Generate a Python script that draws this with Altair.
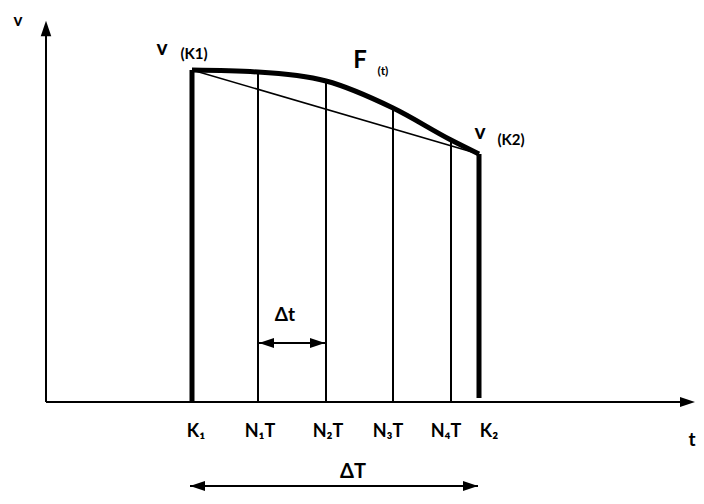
import altair as alt
import pandas as pd

# ---- data (diagram units: 1 unit ~ 1/6.7 of a sampling interval Δt) ----
curve_t = [14.6, 21.2, 28.0, 34.7, 40.5, 43.3]
curve_v = [33.2, 33.0, 32.1, 29.4, 26.2, 24.8]

grid_names = ["N1T", "N2T", "N3T", "N4T"]
grid_t = [21.2, 28.0, 34.7, 40.5]
grid_v = [33.0, 32.1, 29.4, 26.2]

k_names = ["K1", "K2"]
k_t = [14.6, 43.3]
k_v = [33.2, 24.8]
k_base = [0.0, 0.4]

tick_labels = ["K₁", "N₁T", "N₂T", "N₃T", "N₄T", "K₂"]
tick_t = [15.0, 21.4, 28.2, 34.2, 40.0, 44.3]
tick_v = -3.0

axis_t_end = 63.6
axis_v_end = 37.0

dt_span = [21.3, 27.9]
dt_level = 5.9
DT_span = [14.4, 43.2]
DT_level = -8.4

head_t = [0.0, 64.15, 22.05, 27.15, 15.15, 42.45]
head_v = [37.35, 0.0, dt_level, dt_level, DT_level, DT_level]
head_angle = [270, 0, 180, 0, 180, 0]
head_size = [240, 225, 225, 225, 225, 225]

label_text = ["v", "v", "(K1)", "F", "(t)", "v", "(K2)", "Δt", "ΔT", "t"]
label_t = [-2.8, 11.6, 14.8, 31.4, 33.7, 43.4, 46.5, 23.9, 30.7, 64.6]
label_v = [38.1, 35.3, 34.8, 34.1, 33.1, 26.9, 26.2, 8.7, -7.0, -3.8]
label_size = [17, 21, 15, 24, 12, 21, 15, 19, 20, 19]

FONT = "Lato"

xs = alt.Scale(domain=[-3.8, 65.0], nice=False, zero=False)
ys = alt.Scale(domain=[-9.0, 39.4], nice=False, zero=False)


def X(f="t"):
    return alt.X(f"{f}:Q", scale=xs, axis=None)


def Y(f="v"):
    return alt.Y(f"{f}:Q", scale=ys, axis=None)


# axes
axes_df = pd.DataFrame({
    "t": [0.0, 0.0], "t2": [axis_t_end, 0.0],
    "v": [0.0, 0.0], "v2": [0.0, axis_v_end],
})
axes = alt.Chart(axes_df).mark_rule(color="black", strokeWidth=2).encode(
    x=X(), x2="t2:Q", y=Y(), y2="v2:Q"
)

# arrowheads
heads_df = pd.DataFrame({"t": head_t, "v": head_v, "angle": head_angle, "size": head_size})
heads = alt.Chart(heads_df).mark_point(
    shape="M1,0L-1,-0.68L-1,0.68Z", filled=True, color="black", opacity=1
).encode(
    x=X(), y=Y(),
    angle=alt.Angle("angle:Q", scale=None),
    size=alt.Size("size:Q", scale=None),
)

# K1 / K2 thick lines
k_df = pd.DataFrame({"name": k_names, "t": k_t, "v": k_v, "base": k_base})
klines = alt.Chart(k_df).mark_rule(color="black", strokeWidth=5).encode(
    x=X(), y=Y("base"), y2="v:Q"
)

# N grid lines
g_df = pd.DataFrame({"name": grid_names, "t": grid_t, "v": grid_v, "base": [0.0] * 4})
glines = alt.Chart(g_df).mark_rule(color="black", strokeWidth=2).encode(
    x=X(), y=Y("base"), y2="v:Q"
)

# chord
chord_df = pd.DataFrame({"t": k_t, "v": k_v})
chord = alt.Chart(chord_df).mark_line(color="black", strokeWidth=1.6).encode(
    x=X(), y=Y()
)

# curve F(t)
curve_df = pd.DataFrame({"t": curve_t, "v": curve_v})
curve = alt.Chart(curve_df).mark_line(
    color="black", strokeWidth=5, interpolate="monotone", strokeJoin="round"
).encode(x=X(), y=Y())

# interval arrows
arr_df = pd.DataFrame({
    "t": [dt_span[0], DT_span[0]], "t2": [dt_span[1], DT_span[1]],
    "v": [dt_level, DT_level],
})
arrows = alt.Chart(arr_df).mark_rule(color="black", strokeWidth=2).encode(
    x=X(), x2="t2:Q", y=Y()
)

# tick labels
tick_df = pd.DataFrame({"text": tick_labels, "t": tick_t, "v": [tick_v] * len(tick_t)})
ticks = alt.Chart(tick_df).mark_text(
    font=FONT, fontSize=18, fontWeight="bold", color="black",
    align="center", baseline="middle"
).encode(x=X(), y=Y(), text="text:N")

# other labels
lab_df = pd.DataFrame({"text": label_text, "t": label_t, "v": label_v, "size": label_size})
labels = alt.Chart(lab_df).mark_text(
    font=FONT, fontWeight="bold", color="black", align="center", baseline="middle"
).encode(
    x=X(), y=Y(), text="text:N", size=alt.Size("size:Q", scale=None)
)

chart = alt.layer(
    axes, glines, chord, curve, klines, arrows, heads, ticks, labels
).properties(
    width=688, height=484,
    autosize=alt.AutoSizeParams(type="none"),
    padding={"left": 0, "top": 0, "right": 0, "bottom": 0},
    background="white",
).configure_view(strokeWidth=0)

chart.save("out.html", embed_options={"renderer": "svg", "actions": False})
